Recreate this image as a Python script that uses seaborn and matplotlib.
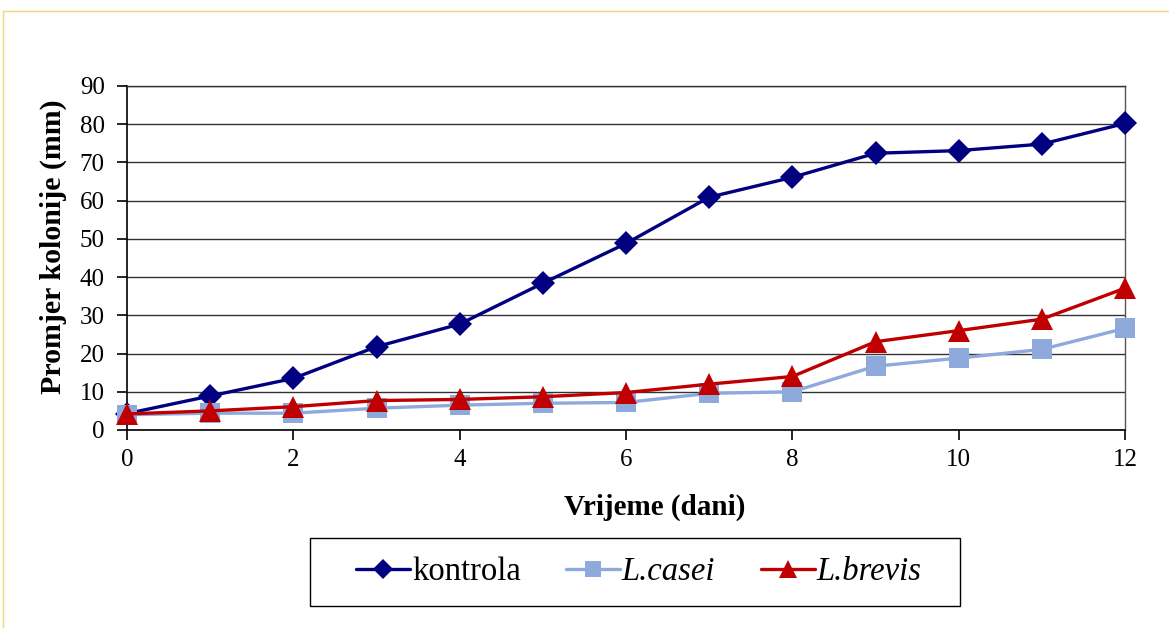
import matplotlib
matplotlib.use("Agg")
import matplotlib.pyplot as plt
import seaborn as sns
import pandas as pd
from matplotlib.lines import Line2D
from matplotlib.patches import Rectangle

days = [0, 1, 2, 3, 4, 5, 6, 7, 8, 9, 10, 11, 12]
kontrola = [4.3, 8.9, 13.5, 21.8, 27.7, 38.4, 48.8, 60.9, 66.1, 72.4, 73.1, 74.8, 80.2]
l_casei = [4.0, 4.4, 4.4, 5.7, 6.5, 7.0, 7.2, 9.6, 10.0, 16.7, 18.8, 21.1, 26.6]
l_brevis = [4.2, 5.0, 6.1, 7.7, 8.0, 8.7, 9.8, 12.0, 14.0, 23.1, 26.0, 29.0, 37.1]
series_names = ["kontrola", "L.casei", "L.brevis"]
y_ticks = [0, 10, 20, 30, 40, 50, 60, 70, 80, 90]
x_ticks = [0, 2, 4, 6, 8, 10, 12]

sns.set_style("white")
plt.rcParams["font.family"] = ["Liberation Serif", "DejaVu Serif"]

W, H = 1169, 628
fig = plt.figure(figsize=(W / 100, H / 100), dpi=100)
ax = fig.add_axes([127 / W, 1 - 430 / H, (1125 - 127) / W, (430 - 86) / H])

styles = [
    dict(color="#000080", marker="D", markersize=12, lw=2.4),
    dict(color="#8EA9DB", marker="s", markersize=14, lw=2.4),
    dict(color="#C00000", marker="^", markersize=15.5, lw=2.4),
]
data = [kontrola, l_casei, l_brevis]
order = [1, 2, 0]
for i in order:
    st = styles[i]
    df = pd.DataFrame({"x": days, "y": data[i]})
    sns.lineplot(data=df, x="x", y="y", ax=ax, color=st["color"], marker=st["marker"],
                 markersize=st["markersize"], linewidth=st["lw"], markeredgewidth=0,
                 markeredgecolor=st["color"], zorder=3 + i, legend=False, clip_on=False)

ax.set_xlim(0, 12)
ax.set_ylim(0, 90)
ax.set_xticks(x_ticks)
ax.set_yticks(y_ticks)
ax.yaxis.grid(True, color="#333333", linewidth=1.0)
ax.xaxis.grid(False)
ax.set_axisbelow(True)
for s in ["left", "bottom"]:
    ax.spines[s].set_visible(True)
    ax.spines[s].set_color("black")
    ax.spines[s].set_linewidth(1.2)
ax.spines["top"].set_color("#333333")
ax.spines["top"].set_linewidth(1.0)
ax.spines["right"].set_color("#555555")
ax.spines["right"].set_linewidth(1.0)
ax.tick_params(axis="both", direction="out", length=7, width=1.2, color="black",
               labelsize=18, left=True, bottom=True, labelcolor="black")
ax.tick_params(axis="y", pad=9)
ax.tick_params(axis="x", pad=7)

ax.set_xlabel("Vrijeme (dani)", fontsize=21, fontweight="bold", color="black")
ax.set_ylabel("Promjer kolonije (mm)", fontsize=21.5, fontweight="bold", color="black")
ax.xaxis.set_label_coords((655 - 127) / 998, (430 - 494) / 344)
ax.yaxis.set_label_coords((67 - 127) / 998, (430 - 247) / 344)

handles = [Line2D([], [], color=st["color"], marker=st["marker"], markersize=st["markersize"] * 0.85,
                  linewidth=st["lw"], markeredgewidth=0) for st in styles]
leg = fig.legend(handles, series_names, loc="center",
                 bbox_to_anchor=(639 / W, 1 - 572 / H), ncol=3, frameon=False,
                 fontsize=23.5, handlelength=1.65, handletextpad=0.05,
                 columnspacing=1.4, borderpad=0.3, borderaxespad=0)
for t in leg.get_texts():
    t.set_color("black")
for t in leg.get_texts()[1:]:
    t.set_fontstyle("italic")
fig.add_artist(Rectangle((310 / W, 1 - 606 / H), (960 - 310) / W, (606 - 538) / H,
                         transform=fig.transFigure, fill=False, edgecolor="black", lw=1.0))

fig.add_artist(Line2D([3 / W, 1], [1 - 11 / H, 1 - 11 / H], transform=fig.transFigure,
                      color="#F6D37A", lw=1))
fig.add_artist(Line2D([3 / W, 3 / W], [0, 1 - 11 / H], transform=fig.transFigure,
                      color="#F6D37A", lw=1))

fig.savefig("out.png", dpi=100)
